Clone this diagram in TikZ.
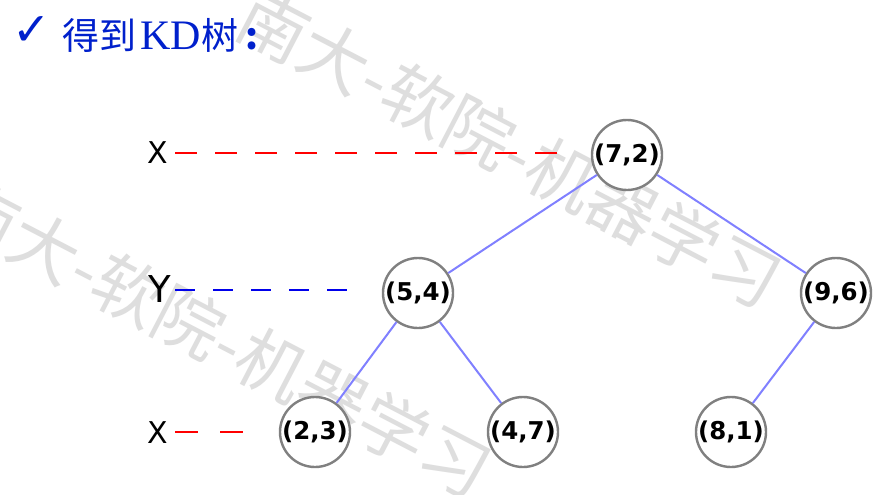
\documentclass[tikz,border=0pt]{standalone}
\usepackage{fontspec}
\setmainfont{DejaVu Sans}
\newfontfamily\cjk{Noto Sans CJK SC}
\newfontfamily\latserif{Liberation Serif}
\newfontfamily\dejavu{DejaVu Sans}
\definecolor{titleblue}{RGB}{0,32,204}
\definecolor{edgeblue}{RGB}{128,128,255}
\definecolor{ringgray}{RGB}{128,128,128}
\definecolor{wmgray}{RGB}{222,222,222}
\definecolor{dashred}{RGB}{255,0,0}
\definecolor{dashblue}{RGB}{0,0,235}
\begin{document}
\begin{tikzpicture}[x=1pt,y=-1pt,
  kdnode/.style={circle, draw=ringgray, line width=2.4pt, fill=white, minimum size=70pt, inner sep=0pt, font=\dejavu\bfseries\fontsize{24.5}{24.5}\selectfont},
  treeedge/.style={draw=edgeblue, line width=2pt},
  axislabel/.style={font=\dejavu\fontsize{30}{30}\selectfont, inner sep=0pt},
  wmark/.style={text=wmgray, font=\cjk\fontsize{69}{69}\selectfont, rotate=-27.5, inner sep=0pt},
  reddash/.style={draw=dashred, line width=2.2pt},
  bluedash/.style={draw=dashblue, line width=2.2pt}]
\useasboundingbox (0,0) rectangle (883,495);
\fill[white] (0,0) rectangle (883,495);

% watermarks
\node[wmark] (wm1) at (510,148) {南大-软院-机器学习};
\node[wmark] (wm2) at (220,338) {南大-软院-机器学习};

% title
\node[anchor=base west, text=titleblue, inner sep=0pt] (check) at (12,46) {\dejavu\fontsize{46}{46}\selectfont ✓};
\node[anchor=base west, text=titleblue, inner sep=0pt] (title) at (62,50) {\cjk\fontsize{37}{37}\selectfont 得到\hspace{4pt}{\latserif\fontsize{42}{42}\selectfont KD}\hspace{1pt}树\hspace{7pt}{\bfseries :}};

% axis labels
\node[axislabel] (ax1) at (158,153) {X};
\node[axislabel, font=\dejavu\fontsize{37}{37}\selectfont] (ax2) at (160,289) {Y};
\node[axislabel] (ax3) at (158,433) {X};

% tree nodes
\node[kdnode] (n72) at (627,155) {(7,2)};
\node[kdnode] (n54) at (418,293) {(5,4)};
\node[kdnode] (n96) at (836,293) {(9,6)};
\node[kdnode] (n23) at (315,432) {(2,3)};
\node[kdnode] (n47) at (523,432) {(4,7)};
\node[kdnode] (n81) at (731,432) {(8,1)};

% edges
\draw[treeedge] (n72) -- (n54);
\draw[treeedge] (n72) -- (n96);
\draw[treeedge] (n54) -- (n23);
\draw[treeedge] (n54) -- (n47);
\draw[treeedge] (n96) -- (n81);

% dashed split lines
\coordinate (d1s) at (175,153);
\coordinate (d1e) at (557,153);
\coordinate (d2s) at (175,290);
\coordinate (d2e) at (347,290);
\coordinate (d3s) at (175,432);
\coordinate (d3e) at (243,432);
\draw[reddash, dash pattern=on 22pt off 18pt] (d1s) -- (d1e);
\draw[bluedash, dash pattern=on 20pt off 18pt] (d2s) -- (d2e);
\draw[reddash, dash pattern=on 23pt off 22pt] (d3s) -- (d3e);
\end{tikzpicture}
\end{document}
